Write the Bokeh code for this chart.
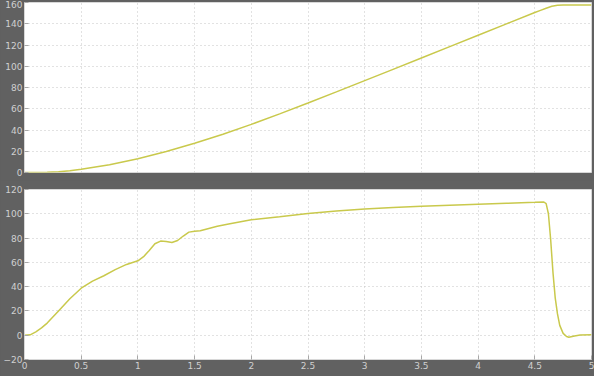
from bokeh.plotting import figure
from bokeh.layouts import column
from bokeh.models import FixedTicker
from bokeh.embed import file_html
from bokeh.resources import INLINE

# Top panel (position-like signal)
t_top = [0, 0.1, 0.2, 0.3, 0.4, 0.5, 0.75, 1.0, 1.25, 1.5, 1.75, 2.0, 2.25, 2.5,
         2.75, 3.0, 3.25, 3.5, 3.75, 4.0, 4.25, 4.5, 4.55, 4.6, 4.65, 4.7, 4.75, 5.0]
y_top = [0, 0, 0.15, 0.7, 1.6, 3, 7.3, 13, 19.8, 27.5, 36, 45.3, 55.2, 65.4,
         75.9, 86.5, 97.1, 107.8, 118.5, 129.2, 139.9, 150.6, 152.6, 154.6, 156.4, 157.4, 157.7, 157.7]

# Bottom panel (speed-like signal)
t_bot = [0, 0.05, 0.1, 0.15, 0.2, 0.3, 0.4, 0.5, 0.6, 0.7, 0.8, 0.9, 1.0, 1.05,
         1.1, 1.15, 1.2, 1.25, 1.3, 1.35, 1.4, 1.45, 1.5, 1.55, 1.6, 1.7, 1.8,
         2.0, 2.25, 2.5, 2.75, 3.0, 3.25, 3.5, 3.75, 4.0, 4.25, 4.5, 4.58, 4.6,
         4.62, 4.64, 4.66, 4.68, 4.7, 4.72, 4.75, 4.78, 4.8, 4.85, 4.9, 5.0]
y_bot = [0, 0.3, 2.8, 6, 10, 20, 30, 38.7, 44.5, 49, 54, 58.3, 61.3, 64.7,
         69.7, 75.3, 77.5, 77.2, 76.4, 78, 81.7, 84.9, 85.7, 86, 87.3, 89.7, 91.5,
         95, 97.6, 100.3, 102.2, 104, 105.1, 106.2, 107, 107.8, 108.6, 109.4, 109.7, 108.4,
         100, 78.6, 52, 30.8, 17.5, 8.1, 1.5, -1.1, -1.7, -0.6, 0.2, 0.4]

x_ticks = [0, 0.5, 1, 1.5, 2, 2.5, 3, 3.5, 4, 4.5, 5]
x_tick_labels = ["0", "0.5", "1", "1.5", "2", "2.5", "3", "3.5", "4", "4.5", "5"]
top_ticks = [0, 20, 40, 60, 80, 100, 120, 140, 160]
bot_ticks = [-20, 0, 20, 40, 60, 80, 100, 120]

BG = "#616161"
TXT = "#d0d0d0"
LINE = "#c9c94c"
GRID = "#c4c4c4"


def make_fig(height, top, bottom, y_range, yticks, show_x):
    p = figure(width=594, height=height, x_range=(0, 5), y_range=y_range,
               output_backend="svg", toolbar_location=None,
               min_border_left=19, min_border_right=3,
               min_border_top=top, min_border_bottom=bottom,
               background_fill_color="white", border_fill_color=BG,
               outline_line_color="#d8d8d8")
    p.xaxis.ticker = FixedTicker(ticks=x_ticks)
    p.yaxis.ticker = FixedTicker(ticks=yticks)
    for ax in (p.xaxis[0], p.yaxis[0]):
        ax.axis_line_color = "#d8d8d8"
        ax.major_tick_in = 4
        ax.major_tick_out = 0
        ax.major_tick_line_color = "#a8a8a8"
        ax.minor_tick_line_color = None
        ax.major_label_text_color = TXT
        ax.major_label_text_font = "DejaVu Sans"
        ax.major_label_text_font_size = "9px"
        ax.major_label_standoff = 2
    p.xaxis.major_label_overrides = {t: l for t, l in zip(x_ticks, x_tick_labels)}
    if not show_x:
        p.xaxis.visible = False
    p.grid.grid_line_color = GRID
    p.grid.grid_line_dash = "1 3"
    p.grid.grid_line_width = 1
    return p


p1 = make_fig(180, 2, 8, (0, 160), top_ticks, False)
p1.line(t_top, y_top, line_color=LINE, line_width=1.5)

p2 = make_fig(196, 9, 17, (-20, 120), bot_ticks, True)
p2.line(t_bot, y_bot, line_color=LINE, line_width=1.5)

layout = column(p1, p2, spacing=0, styles={"background-color": BG})

open("out.html", "w").write(file_html(layout, INLINE))
